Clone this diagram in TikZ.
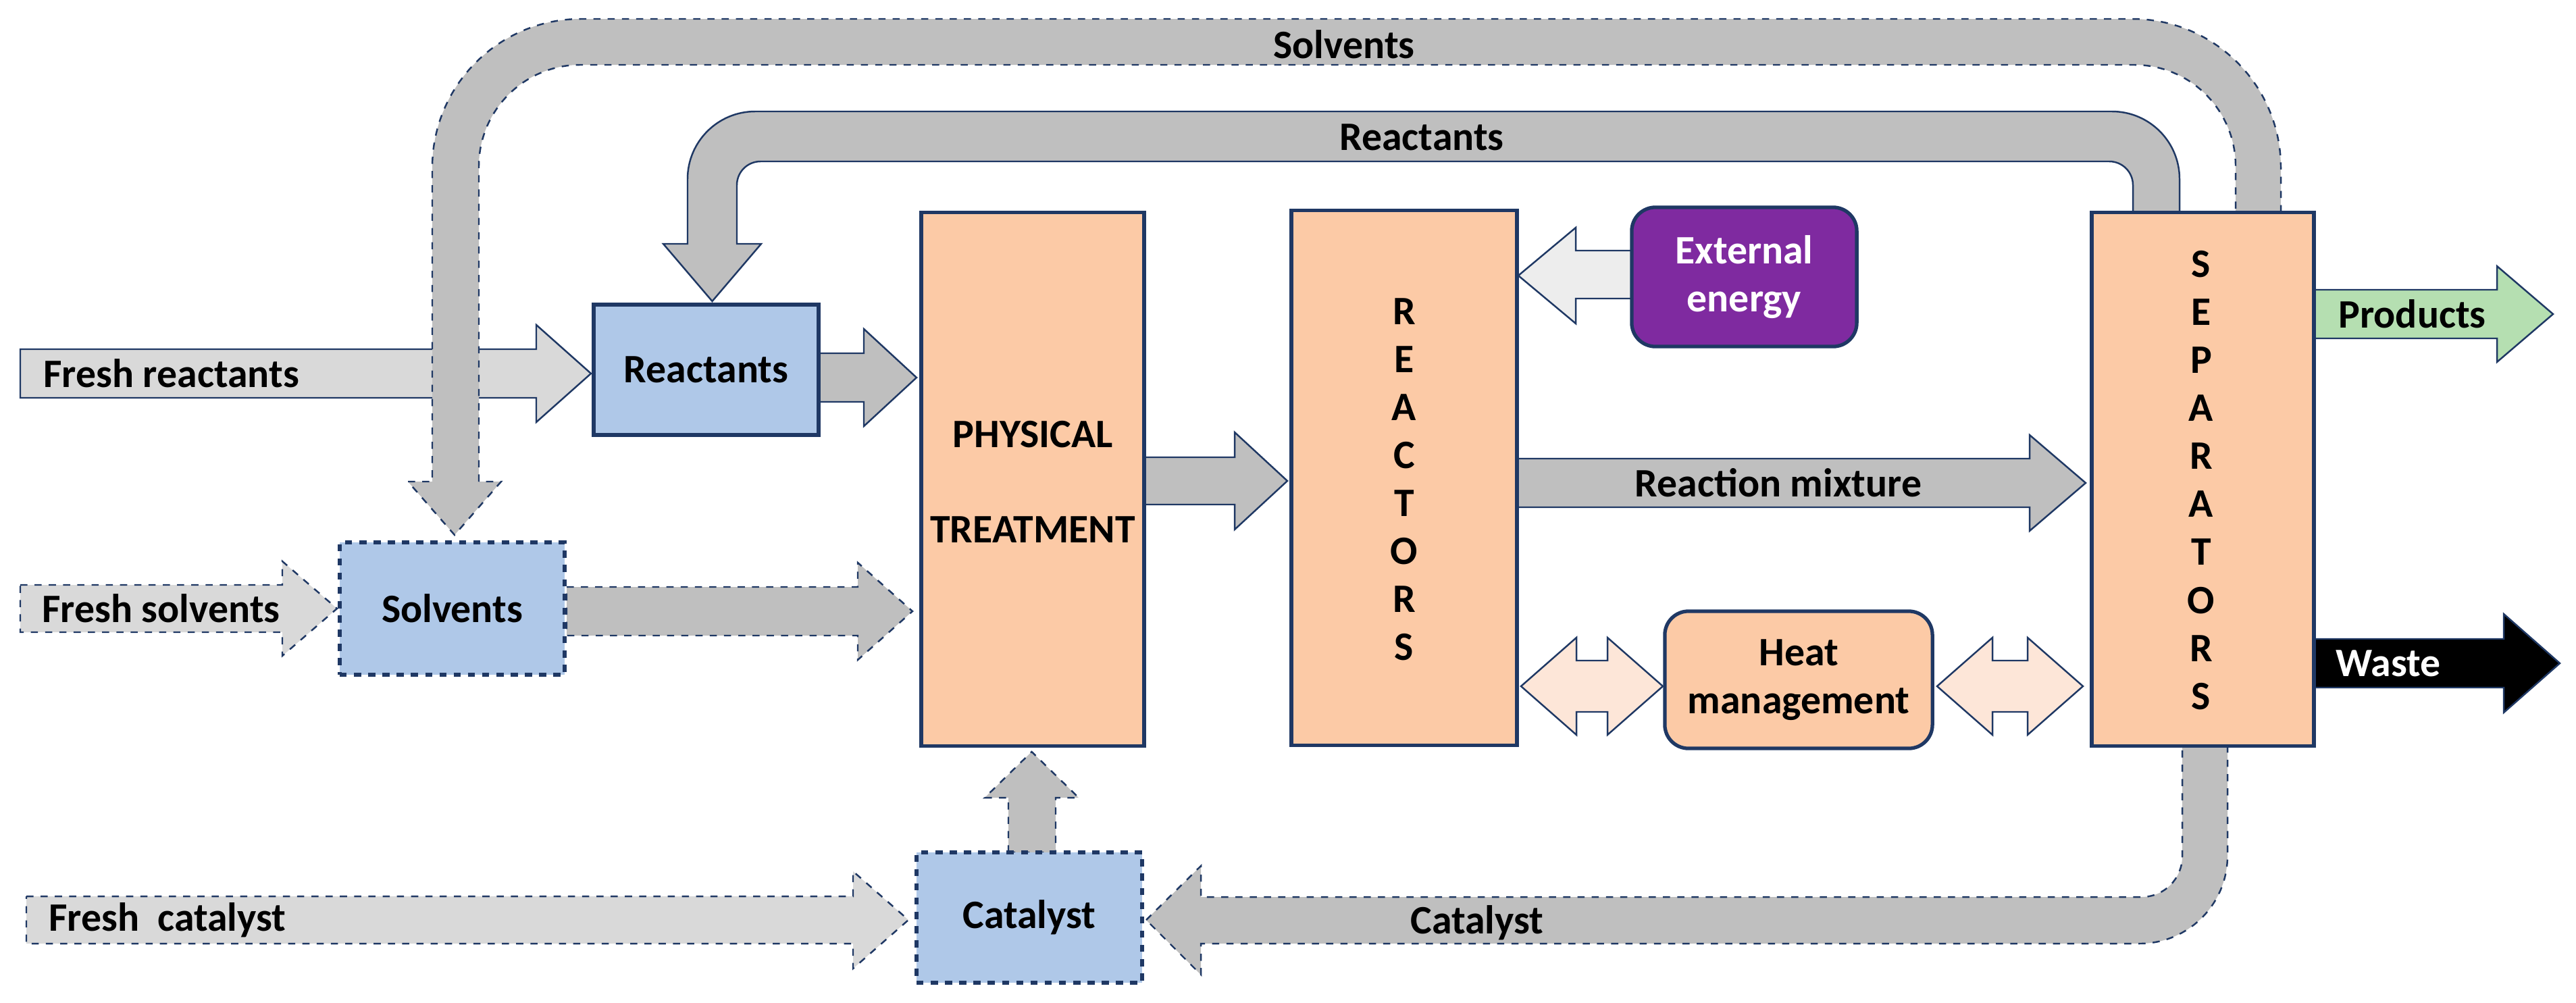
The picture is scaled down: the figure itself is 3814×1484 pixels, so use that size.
\documentclass[tikz,border=0pt]{standalone}
\usepackage{fontspec}
\setmainfont{Carlito}
\usepackage{tikz}

\definecolor{navy}{HTML}{1F3864}
\definecolor{boxblue}{HTML}{AFC8E8}
\definecolor{peach}{HTML}{FCCAA6}
\definecolor{lightpeach}{HTML}{FDE6D8}
\definecolor{band}{HTML}{BFBFBF}
\definecolor{lightband}{HTML}{D9D9D9}
\definecolor{paleband}{HTML}{EDEDED}
\definecolor{purple}{HTML}{7F2AA0}
\definecolor{green}{HTML}{B5DFB1}

% right pointing block arrow: x0, head start, tip, y centre, shaft half, head half
\newcommand\rarrow[7][]{%
  \draw[#1] ({#2},{#5-#6}) -- ({#3},{#5-#6}) -- ({#3},{#5-#7}) -- ({#4},{#5})
    -- ({#3},{#5+#7}) -- ({#3},{#5+#6}) -- ({#2},{#5+#6}) -- cycle;}
% double headed block arrow: left tip, left head end, right head start, right tip, y centre
\newcommand\darrow[5]{%
  \draw[hflow] ({#1},{#5}) -- ({#2},{#5-72}) -- ({#2},{#5-38}) -- ({#3},{#5-38})
    -- ({#3},{#5-72}) -- ({#4},{#5}) -- ({#3},{#5+72}) -- ({#3},{#5+38})
    -- ({#2},{#5+38}) -- ({#2},{#5+72}) -- cycle;}

\tikzset{
  txt/.style={font=\fontsize{17}{20.2}\selectfont\bfseries},
  unit/.style={draw=navy, line width=1.5pt, txt, align=center},
  flow/.style={draw=navy, line width=.7pt, fill=band},
  dflow/.style={flow, dashed},
  fresh/.style={draw=navy, line width=.7pt, fill=lightband},
  hflow/.style={draw=navy, line width=.7pt, fill=lightpeach},
}

\begin{document}
\begin{tikzpicture}[x=0.01cm, y=-0.01cm]
  \useasboundingbox (0,0) rectangle (3814,1484);

  % fresh feeds
  \rarrow[fresh]{30}{794}{875}{553}{36}{72}
  \rarrow[fresh, dashed]{30}{418}{499}{901}{35}{70}
  \rarrow[fresh, dashed]{39}{1263}{1345}{1362}{35}{72}

  % recycle loops
  \draw[dflow] (709,713) [rounded corners=1.5cm] -- (709,96) -- (3310,96)
    [sharp corners] -- (3310,315) -- (3377,315) [rounded corners=2.2cm]
    -- (3377,28) -- (640,28) [sharp corners] -- (640,713) -- (604,713)
    -- (673,792) -- (742,713) -- cycle;
  \draw[flow] (1091,361) [rounded corners=.35cm] -- (1091,239) -- (3158,239)
    [sharp corners] -- (3158,315) -- (3227,315) [rounded corners=1cm]
    -- (3227,165) -- (1018,165) [sharp corners] -- (1018,361) -- (982,361)
    -- (1054.5,446) -- (1127,361) -- cycle;
  \draw[dflow] (1697,1362) -- (1778,1282) -- (1778,1328) [rounded corners=.6cm]
    -- (3231,1328) [sharp corners] -- (3231,1104) -- (3298,1104)
    [rounded corners=1.3cm] -- (3298,1397) [sharp corners] -- (1778,1397)
    -- (1778,1443) -- cycle;

  % main flows
  \rarrow[flow]{1212}{1279}{1357}{559}{36}{72}
  \rarrow[dflow]{839}{1270}{1351}{905}{36}{72}
  \rarrow[flow]{1694}{1828}{1906}{712}{35}{72}
  \rarrow[flow]{2246}{3005}{3088}{715}{36}{71}
  \draw[dflow] (1493,1262) -- (1493,1181) -- (1458,1181) -- (1527.5,1113)
    -- (1597,1181) -- (1563,1181) -- (1563,1262) -- cycle;
  \draw[draw=navy, line width=.7pt, fill=paleband] (2416,371) -- (2333,371)
    -- (2333,337) -- (2248,408) -- (2333,479) -- (2333,442) -- (2416,442) -- cycle;
  \darrow{2252}{2334}{2380}{2462}{1016}
  \darrow{2868}{2950}{3002}{3084}{1016}
  \rarrow[draw=navy, line width=.7pt, fill=green]{3426}{3697}{3780}{465}{36}{71}
  \rarrow[draw=navy, line width=.7pt, fill=black]{3426}{3707}{3790}{982}{36}{73}

  % units
  \node[unit, fill=boxblue, minimum width=3.33cm, minimum height=1.93cm] (react) at (1045.5,547.5) {Reactants};
  \node[unit, fill=boxblue, dashed, minimum width=3.33cm, minimum height=1.96cm] (solv) at (669.5,901) {Solvents};
  \node[unit, fill=boxblue, dashed, minimum width=3.34cm, minimum height=1.93cm] (cat) at (1524,1358.5) {Catalyst};
  \node[unit, fill=peach, minimum width=3.3cm, minimum height=7.89cm] (phys) at (1529,709.5) {};
  \node[txt] (physa) at (1529,643) {PHYSICAL};
  \node[txt] (physb) at (1529,784) {TREATMENT};
  \node[unit, fill=peach, minimum width=3.34cm, minimum height=7.91cm] (reac) at (2079,707.5) {};
  \node[txt, align=center] (reacl) at (2079,710) {R\\E\\A\\C\\T\\O\\R\\S};
  \node[unit, fill=peach, minimum width=3.29cm, minimum height=7.89cm] (sep) at (3261.5,709.5) {};
  \node[txt, align=center] (sepl) at (3259,711) {S\\E\\P\\A\\R\\A\\T\\O\\R\\S};
  \node[unit, fill=purple, text=white, rounded corners=.35cm, minimum width=3.33cm, minimum height=2.06cm] (ext) at (2582.5,410) {External\\energy};
  \node[unit, fill=peach, rounded corners=.35cm, minimum width=3.96cm, minimum height=2.03cm] (heat) at (2663,1006.5) {Heat\\management};

  % stream labels
  \node[txt, anchor=west] (lfr) at (52,553) {Fresh reactants};
  \node[txt, anchor=west] (lfs) at (50,901) {Fresh solvents};
  \node[txt, anchor=west] (lfc) at (60,1362) {Fresh\ \ catalyst};
  \node[txt] (lsolv) at (1990,66) {Solvents};
  \node[txt] (lreac) at (2105,203) {Reactants};
  \node[txt] (lmix) at (2633,715) {Reaction mixture};
  \node[txt] (lcat) at (2187,1366) {Catalyst};
  \node[txt, anchor=west] (lprod) at (3450,465) {Products};
  \node[txt, anchor=west, text=white] (lwaste) at (3446,982) {Waste};
\end{tikzpicture}
\end{document}
